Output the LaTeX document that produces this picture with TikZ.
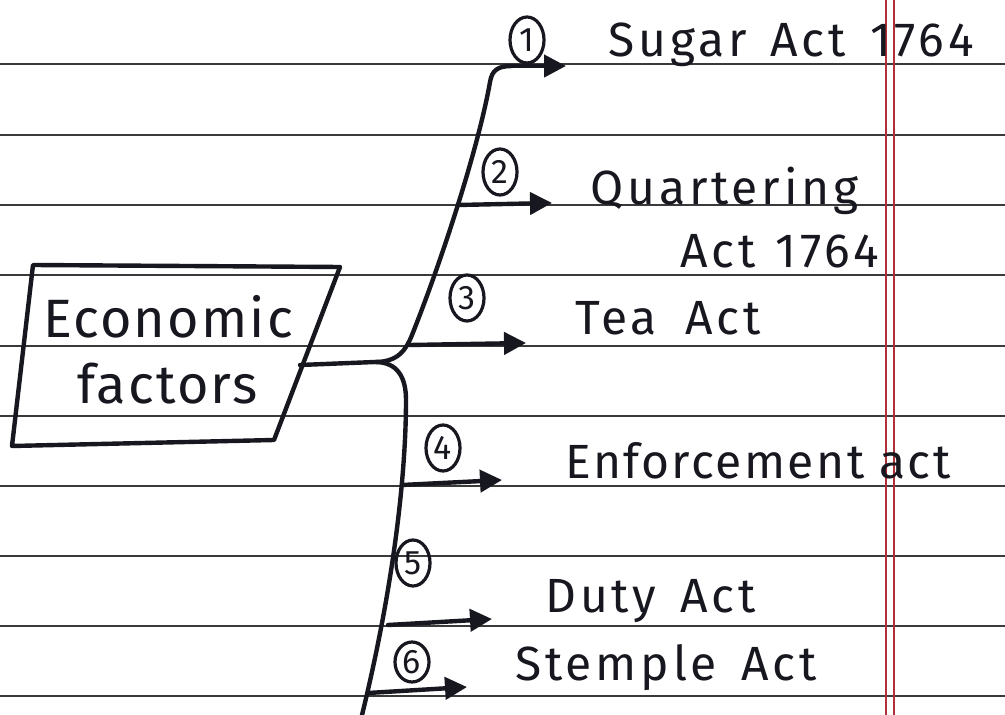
\documentclass[tikz,border=0pt]{standalone}
\usepackage{fontspec}
\setmainfont{Fira Sans}[LetterSpace=8]
\usetikzlibrary{arrows.meta,shapes.geometric}
\definecolor{ink}{HTML}{17171F}
\definecolor{rulecol}{HTML}{3A3A3A}
\definecolor{margincol}{HTML}{B0303A}
\begin{document}
\begin{tikzpicture}[x=0.5pt,y=-0.5pt,
  ruling/.style={rulecol,line width=0.9pt},
  marginline/.style={margincol,line width=0.8pt},
  conn/.style={ink,line width=2.2pt,line cap=round,line join=round},
  arr/.style={conn,-{Triangle[length=11pt,width=11pt]}},
  circnum/.style={ellipse,draw=ink,text=ink,line width=1.6pt,minimum width=17pt,minimum height=23pt,inner sep=0pt,font=\fontsize{17}{17}\selectfont},
  lab/.style={text=ink,anchor=base west,inner sep=0pt,font=\fontsize{24}{26}\selectfont},
  boxtext/.style={text=ink,align=center,inner sep=0pt,font=\addfontfeatures{LetterSpace=4}\fontsize{27}{33}\selectfont}]
\useasboundingbox (0,0) rectangle (1005,715);
\fill[white] (0,0) rectangle (1005,715);
% ruled paper
\foreach \y in {64,135,205,275,346,416,486,556,626,696}
  \draw[ruling] (0,\y) -- (1005,\y);
\draw[marginline] (886,0) -- (886,715);
\draw[marginline] (894,0) -- (894,715);
% box
\draw[conn] (33,265) -- (340,267) -- (274,440) -- (12,446) -- cycle;
\node[boxtext] (econ) at (168,350) {Economic\\factors};
% trunk
\coordinate (boxout) at (300,365);
\coordinate (fork) at (375,362);
\coordinate (top) at (512,66);
\coordinate (b2) at (458,205);
\coordinate (b3) at (410,345);
\coordinate (b4) at (402,485);
\coordinate (b5) at (388,625);
\coordinate (b6) at (368,693);
\coordinate (bottom) at (362,715);
\coordinate (e1) at (566,66);
\coordinate (e2) at (552,203);
\coordinate (e3) at (526,343);
\coordinate (e4) at (502,480);
\coordinate (e5) at (492,619);
\coordinate (e6) at (467,687);
\draw[conn] (boxout) -- (fork) .. controls (398,362) and (406,350) .. (412,335)
  .. controls (440,265) and (478,150) .. (490,82) .. controls (492,70) and (498,66) .. (top);
\draw[conn] (fork) .. controls (398,362) and (406,378) .. (406,400)
  .. controls (406,470) and (395,580) .. (bottom);
% branches
\draw[arr] (top) -- (e1);
\draw[arr] (b2) -- (e2);
\draw[arr] (b3) -- (e3);
\draw[arr] (b4) -- (e4);
\draw[arr] (b5) -- (e5);
\draw[arr] (b6) -- (e6);
% numbers
\node[circnum] (n1) at (527,40) {1};
\node[circnum] (n2) at (500,172) {2};
\node[circnum] (n3) at (467,298) {3};
\node[circnum] (n4) at (443,448) {4};
\node[circnum] (n5) at (413,563) {5};
\node[circnum,minimum height=20pt] (n6) at (412,662) {6};
% labels
\node[lab] (t1) at (608,57) {Sugar\hspace{12pt}Act\hspace{12pt}1764};
\node[lab] (t2) at (590,205) {Quartering};
\node[lab] (t2b) at (680,268) {Act\hspace{10pt}1764};
\node[lab] (t3) at (575,335) {Tea\hspace{14pt}Act};
\node[lab,font=\addfontfeatures{LetterSpace=5}\fontsize{24}{26}\selectfont] (t4) at (565,478) {Enforcement act};
\node[lab] (t5) at (545,612) {Duty\hspace{12pt}Act};
\node[lab] (t6) at (515,680) {Stemple\hspace{12pt}Act};
\end{tikzpicture}
\end{document}
